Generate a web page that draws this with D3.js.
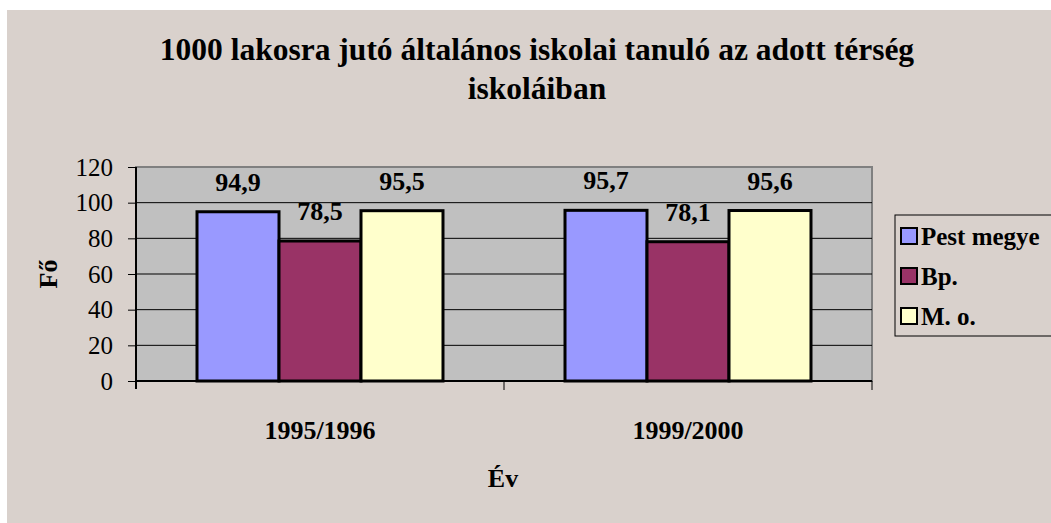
<!DOCTYPE html>
<html>
<head>
<meta charset="utf-8">
<script src="https://cdn.jsdelivr.net/npm/d3@7"></script>
<style>
  body { margin: 0; background: #fff; }
</style>
</head>
<body>
<div id="chart"></div>
<script>
var categories = ['1995/1996', '1999/2000']
var seriesNames = ['Pest megye', 'Bp.', 'M. o.']
var pestValues = [94.9, 95.7]
var bpValues = [78.5, 78.1]
var moValues = [95.5, 95.6]
var yTicks = [0, 20, 40, 60, 80, 100, 120]
var colors = ['#9999ff', '#993366', '#ffffcc']

var serif = '"Liberation Serif"'

var width = 1051
var height = 523

var svg = d3.select('#chart')
  .append('svg')
  .attr('width', width)
  .attr('height', height)

// outer background
svg.append('rect')
  .attr('x', 7).attr('y', 10)
  .attr('width', width - 7).attr('height', height - 10)
  .attr('fill', '#d9d1cc')

var plot = {left: 136, top: 167, right: 872, bottom: 381}

var x0 = d3.scaleBand()
  .domain(categories)
  .range([plot.left, plot.right])
  .paddingInner(0).paddingOuter(0)

var x1 = d3.scaleBand()
  .domain(seriesNames)
  .range([0, x0.bandwidth()])
  .paddingInner(0)
  .paddingOuter(0.744)

var y = d3.scaleLinear()
  .domain([0, 120])
  .range([plot.bottom, plot.top])

// plot area
svg.append('rect')
  .attr('x', plot.left).attr('y', plot.top)
  .attr('width', plot.right - plot.left).attr('height', plot.bottom - plot.top)
  .attr('fill', '#c0c0c0')
  .attr('stroke', '#808080')
  .attr('stroke-width', 2)

// gridlines
svg.append('g')
  .selectAll('line')
  .data(yTicks.filter(function(d) { return d > 0 && d < 120 }))
  .enter().append('line')
  .attr('x1', plot.left).attr('x2', plot.right)
  .attr('y1', function(d) { return y(d) }).attr('y2', function(d) { return y(d) })
  .attr('stroke', '#000').attr('stroke-width', 1)

// y axis
var yAxis = d3.axisLeft(y).tickValues(yTicks).tickSize(8).tickPadding(15)
var gy = svg.append('g')
  .attr('transform', 'translate(' + plot.left + ',0)')
  .call(yAxis)
  .attr('font-family', null)
gy.select('.domain').attr('stroke', '#000').attr('stroke-width', 2)
  .attr('d', 'M0,' + plot.top + 'V' + (plot.bottom + 8))
gy.selectAll('.tick line').attr('stroke', '#000')
gy.selectAll('.tick text')
  .attr('fill', '#000')
  .style('font-family', serif)
  .style('font-size', '25px')

// x axis
var xAxis = d3.axisBottom(x0).tickSize(0).tickPadding(40)
var gx = svg.append('g')
  .attr('transform', 'translate(0,' + plot.bottom + ')')
  .call(xAxis)
  .attr('font-family', null)
gx.select('.domain').attr('stroke', '#000').attr('stroke-width', 2)
  .attr('d', 'M' + plot.left + ',0H' + plot.right)
gx.selectAll('.tick text')
  .attr('fill', '#000')
  .style('font-family', serif)
  .style('font-size', '26px')
  .style('font-weight', 'bold')

// category separator ticks
svg.append('g')
  .selectAll('line')
  .data(categories)
  .enter().append('line')
  .attr('x1', function(d) { return x0(d) + x0.bandwidth() })
  .attr('x2', function(d) { return x0(d) + x0.bandwidth() })
  .attr('y1', plot.bottom).attr('y2', plot.bottom + 9)
  .attr('stroke', '#000').attr('stroke-width', 1)

var rows = categories.map(function(c, i) {
  return [pestValues[i], bpValues[i], moValues[i]].map(function(v, j) {
    return {cat: c, name: seriesNames[j], value: v, color: colors[j]}
  })
})

var groups = svg.append('g').selectAll('g')
  .data(rows)
  .enter().append('g')
  .attr('transform', function(d) { return 'translate(' + x0(d[0].cat) + ',0)' })

groups.selectAll('rect')
  .data(function(d) { return d })
  .enter().append('rect')
  .attr('x', function(d) { return x1(d.name) })
  .attr('y', function(d) { return y(d.value) })
  .attr('width', x1.bandwidth())
  .attr('height', function(d) { return y(0) - y(d.value) })
  .attr('fill', function(d) { return d.color })
  .attr('stroke', '#000')
  .attr('stroke-width', 3)

groups.selectAll('text')
  .data(function(d) { return d })
  .enter().append('text')
  .attr('x', function(d) { return x1(d.name) + x1.bandwidth() / 2 })
  .attr('y', function(d) { return y(d.value) - 21 })
  .attr('text-anchor', 'middle')
  .style('font-family', serif)
  .style('font-size', '26px')
  .style('font-weight', 'bold')
  .text(function(d) { return d3.format('.1f')(d.value).replace('.', ',') })

// title
var title = svg.append('text')
  .attr('text-anchor', 'middle')
  .style('font-family', serif)
  .style('font-size', '31.5px')
  .style('font-weight', 'bold')
title.append('tspan').attr('x', 537).attr('y', 60)
  .text('1000 lakosra jutó általános iskolai tanuló az adott térség')
title.append('tspan').attr('x', 537).attr('y', 99)
  .text('iskoláiban')

// axis titles
svg.append('text')
  .attr('transform', 'translate(57,274) rotate(-90)')
  .attr('text-anchor', 'middle')
  .style('font-family', serif)
  .style('font-size', '26px')
  .style('font-weight', 'bold')
  .text('Fő')

svg.append('text')
  .attr('x', 503).attr('y', 487)
  .attr('text-anchor', 'middle')
  .style('font-family', serif)
  .style('font-size', '26px')
  .style('font-weight', 'bold')
  .text('Év')

// legend
var legend = svg.append('g')
legend.append('rect')
  .attr('x', 895).attr('y', 215)
  .attr('width', 170).attr('height', 121)
  .attr('fill', 'none')
  .attr('stroke', '#000').attr('stroke-width', 1)

var items = legend.selectAll('g.item')
  .data(seriesNames)
  .enter().append('g')
  .attr('class', 'item')
  .attr('transform', function(d, i) { return 'translate(901,' + (228 + i * 40) + ')' })

items.append('rect')
  .attr('width', 16).attr('height', 16)
  .attr('fill', function(d, i) { return colors[i] })
  .attr('stroke', '#000').attr('stroke-width', 2)

items.append('text')
  .attr('x', 20).attr('y', 17)
  .style('font-family', serif)
  .style('font-size', '25px')
  .style('font-weight', 'bold')
  .text(function(d) { return d })
</script>
</body>
</html>
